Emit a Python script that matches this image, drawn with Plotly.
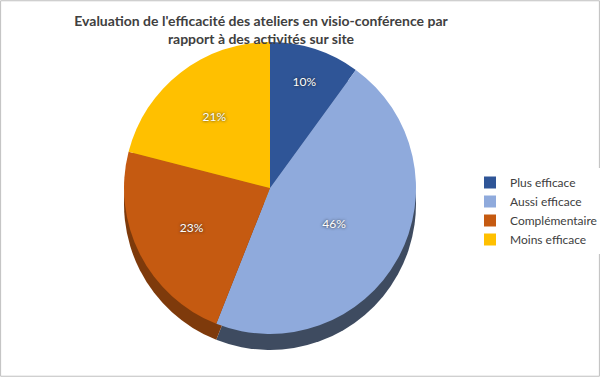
import plotly.graph_objects as go

categories = ["Plus efficace", "Aussi efficace", "Complémentaire", "Moins efficace"]
values = [10, 46, 23, 21]
top_colors = ["#2F5597", "#8FAADC", "#C55A11", "#FFC000"]
side_colors = ["#233F70", "#3E4B60", "#7E3A0B", "#B08400"]

W, H = 600, 377
cx, cy, D, depth = 270, 188, 292, 16

def dom(cx, cy):
    return dict(x=[(cx - D / 2) / W, (cx + D / 2) / W],
                y=[1 - (cy + D / 2) / H, 1 - (cy - D / 2) / H])

fig = go.Figure()
fig.add_trace(go.Pie(
    labels=categories, values=values, sort=False, direction="clockwise",
    marker=dict(colors=side_colors, line=dict(width=0)),
    textinfo="none", hoverinfo="skip", showlegend=False,
    domain=dom(cx, cy + depth),
))
fig.add_trace(go.Pie(
    labels=categories, values=values, sort=False, direction="clockwise",
    marker=dict(colors=top_colors, line=dict(width=0)),
    texttemplate="%{percent:.0%}", textposition="inside",
    insidetextorientation="horizontal",
    textfont=dict(color="white", size=12, family="Lato", shadow="0px 0px 3px #202020"),
    domain=dom(cx, cy),
))

fig.update_layout(
    width=W, height=H,
    margin=dict(l=0, r=0, t=0, b=0, autoexpand=False),
    paper_bgcolor="white",
    title=dict(
        text="<b>Evaluation de l'efficacité des ateliers en visio-conférence par<br>rapport à des activités sur site</b>",
        x=261 / W, xanchor="center", y=1 - 26 / H, yanchor="middle",
        font=dict(family="Lato", size=14, color="#404040"),
    ),
    legend=dict(
        xref="container", yref="container",
        x=470 / W, xanchor="left", y=1 - 168 / H, yanchor="top",
        font=dict(family="Lato", size=12, color="#404040"),
        tracegroupgap=0,
    ),
    shapes=[dict(type="rect", xref="paper", yref="paper", x0=0.001, y0=0.002, x1=0.999, y1=0.998,
                 line=dict(color="#BFBFBF", width=1))],
)

fig.write_html("out.html", config={"displayModeBar": False},
               post_script="document.body.style.margin='0';")
